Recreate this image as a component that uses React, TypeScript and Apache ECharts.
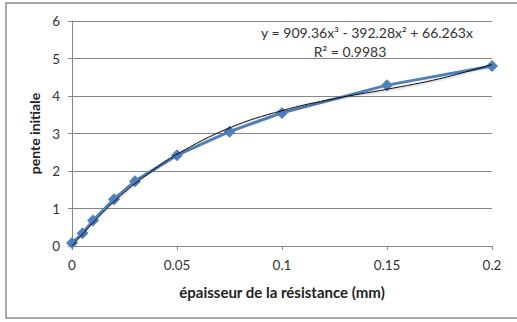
import React, { useEffect, useRef } from "react";
import * as echarts from "echarts";

const thickness = [0, 0.005, 0.01, 0.02, 0.03, 0.05, 0.075, 0.1, 0.15, 0.2];
const slope = [0.08, 0.34, 0.68, 1.25, 1.73, 2.42, 3.05, 3.55, 4.29, 4.8];

const trendX = [0, 0.0125, 0.025, 0.0375, 0.05, 0.075, 0.1, 0.125, 0.15, 0.175, 0.2];
const trendY = [0, 0.77, 1.43, 1.98, 2.45, 3.15, 3.61, 3.93, 4.18, 4.46, 4.84];

const equationText = "y = 909.36x³ - 392.28x² + 66.263x";
const r2Text = "R² = 0.9983";
const xTitle = "épaisseur de la résistance (mm)";
const yTitle = "pente initiale";

const FONT = "Lato";

export default function App() {
  const ref = useRef<HTMLDivElement>(null);
  useEffect(() => {
    if (!ref.current) return;
    const chart = echarts.init(ref.current, null, { renderer: "svg" });
    chart.setOption({
      animation: false,
      backgroundColor: "#ffffff",
      textStyle: { fontFamily: FONT },
      grid: { left: 72, right: 25, top: 21, bottom: 76, containLabel: false },
      xAxis: {
        type: "value",
        min: 0,
        max: 0.2,
        interval: 0.05,
        name: xTitle,
        nameLocation: "middle",
        nameGap: 38,
        nameTextStyle: { fontFamily: FONT, fontSize: 15, fontWeight: "bold", color: "#222" },
        axisLine: { show: true, lineStyle: { color: "#868686", width: 1 } },
        axisTick: { show: true, length: 4, lineStyle: { color: "#868686" } },
        axisLabel: { fontFamily: FONT, fontSize: 13.5, color: "#333", margin: 12 },
        splitLine: { show: false },
      },
      yAxis: {
        type: "value",
        min: 0,
        max: 6,
        interval: 1,
        name: yTitle,
        nameLocation: "middle",
        nameGap: 31,
        nameRotate: 90,
        nameTextStyle: { fontFamily: FONT, fontSize: 14, fontWeight: "bold", color: "#222" },
        axisLine: { show: true, lineStyle: { color: "#868686", width: 1 } },
        axisTick: { show: true, length: 4, lineStyle: { color: "#868686" } },
        axisLabel: { fontFamily: FONT, fontSize: 13.5, color: "#333", margin: 12 },
        splitLine: { show: true, lineStyle: { color: "#868686", width: 1 } },
      },
      series: [
        {
          type: "line",
          data: thickness.map((x, i) => [x, slope[i]]),
          symbol: "diamond",
          symbolSize: 12,
          lineStyle: { color: "#4F81BD", width: 3 },
          itemStyle: { color: "#4F81BD" },
          z: 2,
        },
        {
          type: "line",
          data: trendX.map((x, i) => [x, trendY[i]]),
          smooth: 0.4,
          symbol: "none",
          lineStyle: { color: "#111", width: 1, shadowColor: "rgba(0,0,0,0.35)", shadowBlur: 2, shadowOffsetY: 1 },
          z: 3,
        },
      ],
      graphic: [
        {
          type: "rect",
          shape: { x: 6, y: 3, width: 530, height: 315 },
          style: { fill: "none", stroke: "#8c8c8c", lineWidth: 1.5 },
          z: 0,
          silent: true,
        },
        {
          type: "text",
          x: 367,
          y: 32,
          style: { text: equationText, fontFamily: FONT, fontSize: 14, fill: "#333", align: "center", verticalAlign: "middle" },
          z: 10,
        },
        {
          type: "text",
          x: 350,
          y: 51,
          style: { text: r2Text, fontFamily: FONT, fontSize: 14, fill: "#333", align: "center", verticalAlign: "middle" },
          z: 10,
        },
      ],
    });
    return () => chart.dispose();
  }, []);
  return (
    <div
      ref={ref}
      style={{ position: "absolute", left: 0, top: 0, width: 517, height: 322 }}
    />
  );
}
